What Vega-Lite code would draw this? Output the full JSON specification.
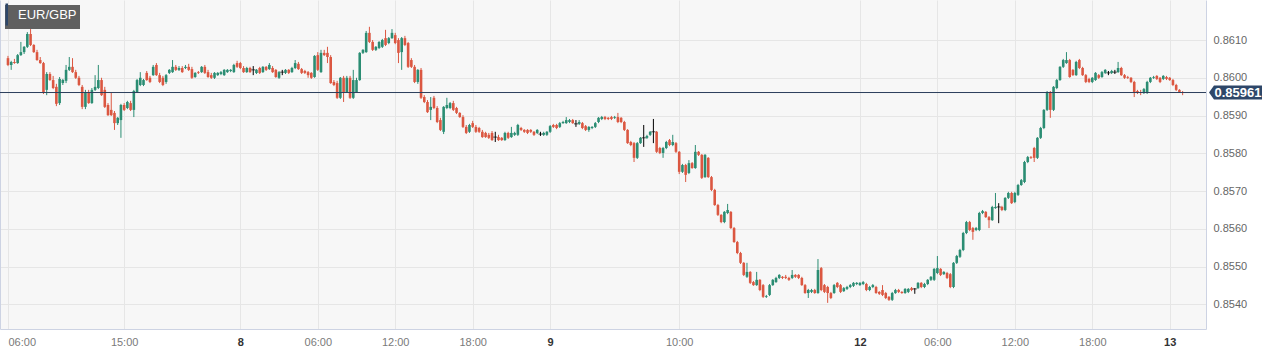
{"$schema":"https://vega.github.io/schema/vega-lite/v6.json","width":1206,"height":329,"autosize":{"type":"none"},"padding":{"left":0,"top":0,"right":71,"bottom":26},"background":"#ffffff","config":{"view":{"fill":"#f7f7f7","stroke":null},"font":"Liberation Sans"},
"layer":[
{"data":{"values":[
{"t":0,"o":0.86052,"h":0.86058,"l":0.86031,"c":0.86034},{"t":1,"o":0.86034,"h":0.86045,"l":0.86021,"c":0.86042},{"t":2,"o":0.86042,"h":0.8605,"l":0.86037,"c":0.86039},{"t":3,"o":0.86039,"h":0.86063,"l":0.86037,"c":0.8606},{"t":4,"o":0.8606,"h":0.86095,"l":0.86058,"c":0.86068},{"t":5,"o":0.86068,"h":0.86084,"l":0.86063,"c":0.86082},{"t":6,"o":0.86082,"h":0.86121,"l":0.86079,"c":0.86116},{"t":7,"o":0.86116,"h":0.86129,"l":0.86084,"c":0.86087},{"t":8,"o":0.86087,"h":0.86089,"l":0.86066,"c":0.86068},{"t":9,"o":0.86068,"h":0.86074,"l":0.86045,"c":0.86047},
{"t":10,"o":0.86047,"h":0.86055,"l":0.86037,"c":0.86039},{"t":11,"o":0.86039,"h":0.86042,"l":0.85957,"c":0.85962},{"t":12,"o":0.85968,"h":0.86015,"l":0.85954,"c":0.8601},{"t":13,"o":0.8601,"h":0.86015,"l":0.85992,"c":0.85994},{"t":14,"o":0.85994,"h":0.86005,"l":0.8597,"c":0.85973},{"t":15,"o":0.85976,"h":0.85984,"l":0.85925,"c":0.85931},{"t":16,"o":0.85933,"h":0.86002,"l":0.85928,"c":0.85997},{"t":17,"o":0.85986,"h":0.85997,"l":0.85981,"c":0.85994},{"t":18,"o":0.85992,"h":0.86034,"l":0.85986,"c":0.86021},{"t":19,"o":0.86021,"h":0.86055,"l":0.86018,"c":0.86029},
{"t":20,"o":0.86029,"h":0.86052,"l":0.86013,"c":0.86015},{"t":21,"o":0.86015,"h":0.86021,"l":0.85997,"c":0.86},{"t":22,"o":0.86,"h":0.86005,"l":0.85978,"c":0.85981},{"t":23,"o":0.85976,"h":0.85981,"l":0.85917,"c":0.85923},{"t":24,"o":0.85923,"h":0.85968,"l":0.85917,"c":0.85962},{"t":25,"o":0.85962,"h":0.85968,"l":0.85931,"c":0.85933},{"t":26,"o":0.85933,"h":0.85973,"l":0.85931,"c":0.85968},{"t":27,"o":0.85968,"h":0.86007,"l":0.85965,"c":0.85976},{"t":28,"o":0.85973,"h":0.86034,"l":0.8597,"c":0.85994},{"t":29,"o":0.85994,"h":0.86,"l":0.85952,"c":0.85954},
{"t":30,"o":0.85968,"h":0.85976,"l":0.8592,"c":0.85923},{"t":31,"o":0.85928,"h":0.85933,"l":0.85899,"c":0.85901},{"t":32,"o":0.85915,"h":0.8596,"l":0.85899,"c":0.85901},{"t":33,"o":0.85907,"h":0.85912,"l":0.85862,"c":0.8588},{"t":34,"o":0.8588,"h":0.85896,"l":0.85875,"c":0.85894},{"t":35,"o":0.85888,"h":0.85931,"l":0.85841,"c":0.85928},{"t":36,"o":0.85928,"h":0.85933,"l":0.85912,"c":0.85915},{"t":37,"o":0.8592,"h":0.85939,"l":0.85917,"c":0.85936},{"t":38,"o":0.85933,"h":0.85939,"l":0.85912,"c":0.85915},{"t":39,"o":0.85915,"h":0.85968,"l":0.85896,"c":0.85965},
{"t":40,"o":0.85962,"h":0.85997,"l":0.8596,"c":0.85994},{"t":41,"o":0.85981,"h":0.86015,"l":0.85978,"c":0.86},{"t":42,"o":0.85981,"h":0.85997,"l":0.85978,"c":0.85994},{"t":43,"o":0.86013,"h":0.86018,"l":0.85992,"c":0.85994},{"t":44,"o":0.86,"h":0.86005,"l":0.85986,"c":0.85989},{"t":45,"o":0.86007,"h":0.86034,"l":0.86005,"c":0.86029},{"t":46,"o":0.86034,"h":0.86039,"l":0.86005,"c":0.86007},{"t":47,"o":0.86007,"h":0.86013,"l":0.85986,"c":0.85989},{"t":48,"o":0.86,"h":0.86005,"l":0.85978,"c":0.85981},{"t":49,"o":0.85989,"h":0.8601,"l":0.85984,"c":0.86007},
{"t":50,"o":0.86013,"h":0.86023,"l":0.8601,"c":0.86021},{"t":51,"o":0.86015,"h":0.86047,"l":0.86013,"c":0.86029},{"t":52,"o":0.86029,"h":0.86034,"l":0.86018,"c":0.86021},{"t":53,"o":0.86021,"h":0.86031,"l":0.86018,"c":0.86026},{"t":54,"o":0.86026,"h":0.86031,"l":0.86013,"c":0.86015},{"t":55,"o":0.86026,"h":0.86034,"l":0.86023,"c":0.86029},{"t":56,"o":0.86029,"h":0.86037,"l":0.86018,"c":0.86021},{"t":57,"o":0.86023,"h":0.86029,"l":0.85997,"c":0.86},{"t":58,"o":0.86002,"h":0.86015,"l":0.86,"c":0.86013},{"t":59,"o":0.86015,"h":0.86018,"l":0.8601,"c":0.86013},
{"t":60,"o":0.86015,"h":0.86031,"l":0.86013,"c":0.86029},{"t":61,"o":0.86029,"h":0.86034,"l":0.8601,"c":0.86013},{"t":62,"o":0.86015,"h":0.86021,"l":0.86,"c":0.86002},{"t":63,"o":0.86007,"h":0.86013,"l":0.85997,"c":0.86},{"t":64,"o":0.86,"h":0.86015,"l":0.85997,"c":0.86013},{"t":65,"o":0.86007,"h":0.86015,"l":0.86005,"c":0.86013},{"t":66,"o":0.8601,"h":0.86018,"l":0.86007,"c":0.86015},{"t":67,"o":0.86007,"h":0.86023,"l":0.86005,"c":0.86021},{"t":68,"o":0.86015,"h":0.86023,"l":0.86013,"c":0.86021},{"t":69,"o":0.86018,"h":0.86023,"l":0.86015,"c":0.86021},
{"t":70,"o":0.86015,"h":0.86037,"l":0.86013,"c":0.86034},{"t":71,"o":0.86039,"h":0.86045,"l":0.86026,"c":0.86029},{"t":72,"o":0.86039,"h":0.86042,"l":0.86023,"c":0.86026},{"t":73,"o":0.86026,"h":0.86031,"l":0.86013,"c":0.86015},{"t":74,"o":0.86015,"h":0.86029,"l":0.86013,"c":0.86026},{"t":75,"o":0.86026,"h":0.86029,"l":0.86013,"c":0.86015},{"t":76,"o":0.86021,"h":0.86031,"l":0.86007,"c":0.86021},{"t":77,"o":0.86013,"h":0.86023,"l":0.8601,"c":0.86021},{"t":78,"o":0.86026,"h":0.86029,"l":0.8601,"c":0.86013},{"t":79,"o":0.86015,"h":0.86031,"l":0.86013,"c":0.86029},
{"t":80,"o":0.86029,"h":0.86031,"l":0.86018,"c":0.86021},{"t":81,"o":0.86023,"h":0.86039,"l":0.86021,"c":0.86034},{"t":82,"o":0.86026,"h":0.86031,"l":0.86013,"c":0.86015},{"t":83,"o":0.86021,"h":0.86023,"l":0.86,"c":0.86002},{"t":84,"o":0.86,"h":0.86018,"l":0.85997,"c":0.86015},{"t":85,"o":0.86015,"h":0.86021,"l":0.86007,"c":0.86015},{"t":86,"o":0.86013,"h":0.86023,"l":0.8601,"c":0.86021},{"t":87,"o":0.86021,"h":0.86023,"l":0.8601,"c":0.86013},{"t":88,"o":0.86015,"h":0.86029,"l":0.86013,"c":0.86026},{"t":89,"o":0.86026,"h":0.86047,"l":0.86023,"c":0.86039},
{"t":90,"o":0.86037,"h":0.86042,"l":0.86021,"c":0.86023},{"t":91,"o":0.86023,"h":0.86026,"l":0.8601,"c":0.86013},{"t":92,"o":0.86018,"h":0.86021,"l":0.8601,"c":0.86013},{"t":93,"o":0.86015,"h":0.86018,"l":0.86,"c":0.86007},{"t":94,"o":0.86013,"h":0.86015,"l":0.85997,"c":0.86},{"t":95,"o":0.86002,"h":0.8606,"l":0.86,"c":0.86058},{"t":96,"o":0.8606,"h":0.86068,"l":0.86018,"c":0.86021},{"t":97,"o":0.86015,"h":0.86074,"l":0.86013,"c":0.86066},{"t":98,"o":0.86066,"h":0.86074,"l":0.86058,"c":0.8606},{"t":99,"o":0.86066,"h":0.86082,"l":0.86039,"c":0.86055},
{"t":100,"o":0.86055,"h":0.8606,"l":0.85984,"c":0.85986},{"t":101,"o":0.85989,"h":0.85994,"l":0.85978,"c":0.85981},{"t":102,"o":0.85986,"h":0.85992,"l":0.85944,"c":0.85947},{"t":103,"o":0.85947,"h":0.86002,"l":0.85944,"c":0.86},{"t":104,"o":0.86,"h":0.86005,"l":0.85936,"c":0.85962},{"t":105,"o":0.85962,"h":0.86005,"l":0.8596,"c":0.86},{"t":106,"o":0.86,"h":0.86005,"l":0.85944,"c":0.85947},{"t":107,"o":0.85947,"h":0.86021,"l":0.85944,"c":0.85994},{"t":108,"o":0.85962,"h":0.86,"l":0.8596,"c":0.85994},{"t":109,"o":0.85994,"h":0.86068,"l":0.85992,"c":0.86066},
{"t":110,"o":0.86066,"h":0.86076,"l":0.86063,"c":0.86074},{"t":111,"o":0.86068,"h":0.86124,"l":0.86066,"c":0.86119},{"t":112,"o":0.86119,"h":0.86135,"l":0.86092,"c":0.86095},{"t":113,"o":0.86095,"h":0.861,"l":0.86071,"c":0.86074},{"t":114,"o":0.86074,"h":0.86084,"l":0.86071,"c":0.86082},{"t":115,"o":0.86079,"h":0.86097,"l":0.86076,"c":0.86095},{"t":116,"o":0.86082,"h":0.86103,"l":0.86079,"c":0.861},{"t":117,"o":0.86105,"h":0.86127,"l":0.86084,"c":0.86087},{"t":118,"o":0.86092,"h":0.86108,"l":0.86089,"c":0.86105},{"t":119,"o":0.86105,"h":0.86129,"l":0.86103,"c":0.86119},
{"t":120,"o":0.86113,"h":0.86119,"l":0.86089,"c":0.86092},{"t":121,"o":0.861,"h":0.86105,"l":0.86039,"c":0.86066},{"t":122,"o":0.86068,"h":0.86108,"l":0.86021,"c":0.86105},{"t":123,"o":0.86105,"h":0.86111,"l":0.86084,"c":0.86087},{"t":124,"o":0.86092,"h":0.86095,"l":0.86026,"c":0.86029},{"t":125,"o":0.86047,"h":0.86052,"l":0.86026,"c":0.86029},{"t":126,"o":0.86029,"h":0.86034,"l":0.85986,"c":0.85989},{"t":127,"o":0.85989,"h":0.86023,"l":0.85984,"c":0.86021},{"t":128,"o":0.86021,"h":0.86026,"l":0.85944,"c":0.85947},{"t":129,"o":0.85949,"h":0.85954,"l":0.85933,"c":0.85936},
{"t":130,"o":0.85936,"h":0.85941,"l":0.85907,"c":0.85909},{"t":131,"o":0.85915,"h":0.85949,"l":0.85888,"c":0.85923},{"t":132,"o":0.85947,"h":0.85952,"l":0.85917,"c":0.8592},{"t":133,"o":0.8592,"h":0.85925,"l":0.8588,"c":0.85883},{"t":134,"o":0.85888,"h":0.85894,"l":0.85859,"c":0.85862},{"t":135,"o":0.85857,"h":0.85925,"l":0.85851,"c":0.85923},{"t":136,"o":0.8592,"h":0.85947,"l":0.85917,"c":0.85928},{"t":137,"o":0.8592,"h":0.85936,"l":0.85917,"c":0.85933},{"t":138,"o":0.85933,"h":0.85939,"l":0.85912,"c":0.85915},{"t":139,"o":0.8592,"h":0.85923,"l":0.85904,"c":0.85907},
{"t":140,"o":0.85907,"h":0.85909,"l":0.85894,"c":0.85896},{"t":141,"o":0.85896,"h":0.85901,"l":0.85867,"c":0.8587},{"t":142,"o":0.8587,"h":0.85875,"l":0.85851,"c":0.85854},{"t":143,"o":0.85857,"h":0.85878,"l":0.85854,"c":0.85875},{"t":144,"o":0.8588,"h":0.85886,"l":0.85867,"c":0.8587},{"t":145,"o":0.8587,"h":0.85875,"l":0.85854,"c":0.85857},{"t":146,"o":0.85867,"h":0.8587,"l":0.85854,"c":0.85857},{"t":147,"o":0.85857,"h":0.85862,"l":0.85841,"c":0.85843},{"t":148,"o":0.85854,"h":0.85857,"l":0.85841,"c":0.85843},{"t":149,"o":0.85849,"h":0.85854,"l":0.85838,"c":0.85841},
{"t":150,"o":0.85854,"h":0.85859,"l":0.85833,"c":0.85835},{"t":151,"o":0.85843,"h":0.85857,"l":0.8583,"c":0.85843},{"t":152,"o":0.85843,"h":0.85849,"l":0.85833,"c":0.85835},{"t":153,"o":0.85841,"h":0.85843,"l":0.85833,"c":0.85835},{"t":154,"o":0.85835,"h":0.85857,"l":0.85833,"c":0.85854},{"t":155,"o":0.85854,"h":0.85857,"l":0.85838,"c":0.85841},{"t":156,"o":0.85843,"h":0.8587,"l":0.85841,"c":0.85854},{"t":157,"o":0.85849,"h":0.85857,"l":0.85846,"c":0.85854},{"t":158,"o":0.85849,"h":0.85878,"l":0.85846,"c":0.85875},{"t":159,"o":0.85867,"h":0.8587,"l":0.85859,"c":0.85862},
{"t":160,"o":0.85862,"h":0.85864,"l":0.85854,"c":0.85857},{"t":161,"o":0.85862,"h":0.85864,"l":0.85851,"c":0.85854},{"t":162,"o":0.85862,"h":0.85864,"l":0.85854,"c":0.85857},{"t":163,"o":0.85857,"h":0.85859,"l":0.85846,"c":0.85849},{"t":164,"o":0.85854,"h":0.85864,"l":0.85851,"c":0.85862},{"t":165,"o":0.85851,"h":0.85857,"l":0.85846,"c":0.85851},{"t":166,"o":0.85849,"h":0.85857,"l":0.85846,"c":0.85854},{"t":167,"o":0.85849,"h":0.85859,"l":0.85846,"c":0.85857},{"t":168,"o":0.85857,"h":0.85875,"l":0.85854,"c":0.85872},{"t":169,"o":0.85875,"h":0.85878,"l":0.85867,"c":0.8587},
{"t":170,"o":0.85875,"h":0.85878,"l":0.85864,"c":0.85867},{"t":171,"o":0.8587,"h":0.85883,"l":0.85867,"c":0.8588},{"t":172,"o":0.8588,"h":0.85886,"l":0.85878,"c":0.85883},{"t":173,"o":0.8588,"h":0.85896,"l":0.85878,"c":0.85888},{"t":174,"o":0.85883,"h":0.85891,"l":0.8588,"c":0.85888},{"t":175,"o":0.85888,"h":0.85891,"l":0.85878,"c":0.8588},{"t":176,"o":0.85878,"h":0.85888,"l":0.8587,"c":0.85878},{"t":177,"o":0.85878,"h":0.85888,"l":0.85875,"c":0.85883},{"t":178,"o":0.8588,"h":0.85883,"l":0.85864,"c":0.85867},{"t":179,"o":0.85872,"h":0.85875,"l":0.85859,"c":0.85862},
{"t":180,"o":0.85862,"h":0.85872,"l":0.85857,"c":0.8587},{"t":181,"o":0.85867,"h":0.85872,"l":0.85864,"c":0.8587},{"t":182,"o":0.8587,"h":0.85883,"l":0.85867,"c":0.8588},{"t":183,"o":0.85883,"h":0.85896,"l":0.8588,"c":0.85894},{"t":184,"o":0.85891,"h":0.85899,"l":0.85888,"c":0.85896},{"t":185,"o":0.85896,"h":0.85899,"l":0.85888,"c":0.85891},{"t":186,"o":0.85894,"h":0.85896,"l":0.85888,"c":0.85891},{"t":187,"o":0.85896,"h":0.85899,"l":0.85888,"c":0.85891},{"t":188,"o":0.85894,"h":0.85899,"l":0.85891,"c":0.85896},{"t":189,"o":0.85896,"h":0.85907,"l":0.8588,"c":0.85883},
{"t":190,"o":0.85894,"h":0.85896,"l":0.8588,"c":0.85883},{"t":191,"o":0.85883,"h":0.85886,"l":0.85859,"c":0.85862},{"t":192,"o":0.85862,"h":0.85864,"l":0.85825,"c":0.85827},{"t":193,"o":0.8583,"h":0.85833,"l":0.85819,"c":0.85822},{"t":194,"o":0.85827,"h":0.8583,"l":0.85777,"c":0.85788},{"t":195,"o":0.85788,"h":0.8583,"l":0.85785,"c":0.85827},{"t":196,"o":0.85827,"h":0.85843,"l":0.85825,"c":0.85841},{"t":197,"o":0.85841,"h":0.85875,"l":0.85817,"c":0.85841},{"t":198,"o":0.85841,"h":0.85849,"l":0.85838,"c":0.85846},{"t":199,"o":0.85849,"h":0.85859,"l":0.85846,"c":0.85857},
{"t":200,"o":0.85857,"h":0.85891,"l":0.85827,"c":0.85857},{"t":201,"o":0.85857,"h":0.85859,"l":0.85801,"c":0.85804},{"t":202,"o":0.85814,"h":0.85817,"l":0.85798,"c":0.85801},{"t":203,"o":0.85801,"h":0.85817,"l":0.85788,"c":0.85814},{"t":204,"o":0.85814,"h":0.85833,"l":0.85811,"c":0.8583},{"t":205,"o":0.85835,"h":0.85838,"l":0.85819,"c":0.85822},{"t":206,"o":0.85822,"h":0.85849,"l":0.85819,"c":0.8583},{"t":207,"o":0.85827,"h":0.8583,"l":0.85801,"c":0.85804},{"t":208,"o":0.85804,"h":0.85806,"l":0.85745,"c":0.85751},{"t":209,"o":0.85751,"h":0.85772,"l":0.85748,"c":0.85769},
{"t":210,"o":0.85769,"h":0.85772,"l":0.85724,"c":0.85743},{"t":211,"o":0.85748,"h":0.85782,"l":0.85745,"c":0.85774},{"t":212,"o":0.85774,"h":0.85777,"l":0.85759,"c":0.85761},{"t":213,"o":0.85761,"h":0.85822,"l":0.85759,"c":0.85804},{"t":214,"o":0.85804,"h":0.85806,"l":0.85793,"c":0.85796},{"t":215,"o":0.85796,"h":0.85798,"l":0.85732,"c":0.85735},{"t":216,"o":0.85737,"h":0.85798,"l":0.85735,"c":0.85796},{"t":217,"o":0.85788,"h":0.8579,"l":0.85735,"c":0.85737},{"t":218,"o":0.85737,"h":0.8574,"l":0.857,"c":0.85703},{"t":219,"o":0.85703,"h":0.85706,"l":0.85661,"c":0.85663},
{"t":220,"o":0.85663,"h":0.85666,"l":0.85634,"c":0.85637},{"t":221,"o":0.85637,"h":0.85639,"l":0.85615,"c":0.85618},{"t":222,"o":0.85618,"h":0.85647,"l":0.85615,"c":0.85645},{"t":223,"o":0.85642,"h":0.85666,"l":0.85639,"c":0.8565},{"t":224,"o":0.85645,"h":0.85647,"l":0.856,"c":0.85602},{"t":225,"o":0.85602,"h":0.85605,"l":0.85563,"c":0.85565},{"t":226,"o":0.85565,"h":0.85568,"l":0.85533,"c":0.85536},{"t":227,"o":0.85536,"h":0.85539,"l":0.85507,"c":0.8551},{"t":228,"o":0.8551,"h":0.85512,"l":0.85475,"c":0.85478},{"t":229,"o":0.85473,"h":0.8551,"l":0.8547,"c":0.85486},
{"t":230,"o":0.85486,"h":0.85488,"l":0.85454,"c":0.85457},{"t":231,"o":0.85459,"h":0.85462,"l":0.85449,"c":0.85451},{"t":232,"o":0.85451,"h":0.85486,"l":0.85449,"c":0.85465},{"t":233,"o":0.85465,"h":0.85467,"l":0.85435,"c":0.85438},{"t":234,"o":0.85451,"h":0.85454,"l":0.85417,"c":0.8542},{"t":235,"o":0.8542,"h":0.85425,"l":0.85417,"c":0.85422},{"t":236,"o":0.85425,"h":0.85454,"l":0.85422,"c":0.85451},{"t":237,"o":0.85451,"h":0.85467,"l":0.85449,"c":0.85465},{"t":238,"o":0.85459,"h":0.85473,"l":0.85457,"c":0.8547},{"t":239,"o":0.8547,"h":0.8548,"l":0.85467,"c":0.85478},
{"t":240,"o":0.85473,"h":0.85475,"l":0.85467,"c":0.8547},{"t":241,"o":0.85473,"h":0.85478,"l":0.85467,"c":0.8547},{"t":242,"o":0.8547,"h":0.85473,"l":0.85462,"c":0.85465},{"t":243,"o":0.8547,"h":0.85491,"l":0.85467,"c":0.85478},{"t":244,"o":0.85478,"h":0.8548,"l":0.8547,"c":0.85473},{"t":245,"o":0.85478,"h":0.8548,"l":0.85467,"c":0.8547},{"t":246,"o":0.8547,"h":0.85473,"l":0.85449,"c":0.85451},{"t":247,"o":0.85451,"h":0.85454,"l":0.85428,"c":0.8543},{"t":248,"o":0.8543,"h":0.85441,"l":0.85417,"c":0.85438},{"t":249,"o":0.85433,"h":0.85441,"l":0.8543,"c":0.85438},
{"t":250,"o":0.85438,"h":0.85441,"l":0.85428,"c":0.8543},{"t":251,"o":0.8543,"h":0.8552,"l":0.85428,"c":0.85491},{"t":252,"o":0.85496,"h":0.85499,"l":0.85435,"c":0.85438},{"t":253,"o":0.85451,"h":0.85454,"l":0.8543,"c":0.85433},{"t":254,"o":0.85446,"h":0.85449,"l":0.85404,"c":0.8543},{"t":255,"o":0.8543,"h":0.85433,"l":0.85414,"c":0.85417},{"t":256,"o":0.8543,"h":0.85454,"l":0.85428,"c":0.85451},{"t":257,"o":0.85457,"h":0.85459,"l":0.85443,"c":0.85446},{"t":258,"o":0.85451,"h":0.85454,"l":0.8543,"c":0.85433},{"t":259,"o":0.85435,"h":0.85446,"l":0.85433,"c":0.85443},
{"t":260,"o":0.85441,"h":0.85449,"l":0.85438,"c":0.85446},{"t":261,"o":0.85446,"h":0.85454,"l":0.85443,"c":0.85451},{"t":262,"o":0.85449,"h":0.85459,"l":0.85446,"c":0.85457},{"t":263,"o":0.85454,"h":0.85459,"l":0.85451,"c":0.85457},{"t":264,"o":0.85451,"h":0.85459,"l":0.85449,"c":0.85457},{"t":265,"o":0.85454,"h":0.85462,"l":0.85451,"c":0.85459},{"t":266,"o":0.85454,"h":0.85457,"l":0.85435,"c":0.85438},{"t":267,"o":0.85438,"h":0.85449,"l":0.85435,"c":0.85446},{"t":268,"o":0.85446,"h":0.85454,"l":0.85443,"c":0.85451},{"t":269,"o":0.85446,"h":0.85449,"l":0.85428,"c":0.8543},
{"t":270,"o":0.85433,"h":0.85435,"l":0.85425,"c":0.85428},{"t":271,"o":0.85438,"h":0.85451,"l":0.85422,"c":0.85425},{"t":272,"o":0.8543,"h":0.85433,"l":0.85414,"c":0.85417},{"t":273,"o":0.8542,"h":0.85422,"l":0.85409,"c":0.85412},{"t":274,"o":0.85412,"h":0.85433,"l":0.85409,"c":0.8543},{"t":275,"o":0.8543,"h":0.85441,"l":0.85428,"c":0.85438},{"t":276,"o":0.85438,"h":0.85441,"l":0.8543,"c":0.85433},{"t":277,"o":0.85433,"h":0.85435,"l":0.85428,"c":0.8543},{"t":278,"o":0.8543,"h":0.85443,"l":0.85428,"c":0.85441},{"t":279,"o":0.85433,"h":0.85443,"l":0.8543,"c":0.85441},
{"t":280,"o":0.85443,"h":0.85446,"l":0.85435,"c":0.85438},{"t":281,"o":0.85441,"h":0.85443,"l":0.85428,"c":0.85441},{"t":282,"o":0.85443,"h":0.85459,"l":0.85441,"c":0.85457},{"t":283,"o":0.85457,"h":0.85459,"l":0.85443,"c":0.85446},{"t":284,"o":0.85446,"h":0.85457,"l":0.85443,"c":0.85454},{"t":285,"o":0.85454,"h":0.85467,"l":0.85451,"c":0.85465},{"t":286,"o":0.85465,"h":0.85475,"l":0.85462,"c":0.85473},{"t":287,"o":0.85465,"h":0.85496,"l":0.85462,"c":0.85494},{"t":288,"o":0.85483,"h":0.85528,"l":0.8548,"c":0.85496},{"t":289,"o":0.85494,"h":0.85496,"l":0.85475,"c":0.85478},
{"t":290,"o":0.8548,"h":0.85488,"l":0.85478,"c":0.85486},{"t":291,"o":0.85483,"h":0.85486,"l":0.85467,"c":0.8547},{"t":292,"o":0.8548,"h":0.85483,"l":0.85443,"c":0.85446},{"t":293,"o":0.85446,"h":0.85512,"l":0.85443,"c":0.8551},{"t":294,"o":0.8551,"h":0.85531,"l":0.85507,"c":0.85528},{"t":295,"o":0.85526,"h":0.85547,"l":0.85523,"c":0.85544},{"t":296,"o":0.85544,"h":0.85592,"l":0.85541,"c":0.85589},{"t":297,"o":0.85589,"h":0.85621,"l":0.85586,"c":0.85618},{"t":298,"o":0.85618,"h":0.85621,"l":0.85594,"c":0.85597},{"t":299,"o":0.85602,"h":0.85605,"l":0.85571,"c":0.85592},
{"t":300,"o":0.85597,"h":0.85605,"l":0.85594,"c":0.85602},{"t":301,"o":0.85597,"h":0.85645,"l":0.85594,"c":0.85642},{"t":302,"o":0.85642,"h":0.8565,"l":0.85639,"c":0.85647},{"t":303,"o":0.85645,"h":0.85647,"l":0.85629,"c":0.85631},{"t":304,"o":0.85631,"h":0.85634,"l":0.85602,"c":0.85623},{"t":305,"o":0.85623,"h":0.85661,"l":0.85621,"c":0.85658},{"t":306,"o":0.85655,"h":0.85695,"l":0.85653,"c":0.85658},{"t":307,"o":0.85658,"h":0.85668,"l":0.85615,"c":0.85658},{"t":308,"o":0.85658,"h":0.85661,"l":0.85647,"c":0.8565},{"t":309,"o":0.8565,"h":0.85684,"l":0.85647,"c":0.85682},
{"t":310,"o":0.85682,"h":0.85698,"l":0.85679,"c":0.85695},{"t":311,"o":0.85695,"h":0.85698,"l":0.85666,"c":0.85668},{"t":312,"o":0.85671,"h":0.85698,"l":0.85668,"c":0.85695},{"t":313,"o":0.8569,"h":0.85719,"l":0.85687,"c":0.85716},{"t":314,"o":0.85716,"h":0.85732,"l":0.85714,"c":0.85729},{"t":315,"o":0.85724,"h":0.8578,"l":0.85721,"c":0.85777},{"t":316,"o":0.85777,"h":0.85793,"l":0.85774,"c":0.8579},{"t":317,"o":0.8579,"h":0.85793,"l":0.85785,"c":0.85788},{"t":318,"o":0.85814,"h":0.85817,"l":0.85777,"c":0.85788},{"t":319,"o":0.85788,"h":0.85843,"l":0.85785,"c":0.85841},
{"t":320,"o":0.85841,"h":0.8587,"l":0.85838,"c":0.85867},{"t":321,"o":0.85867,"h":0.85917,"l":0.85864,"c":0.85915},{"t":322,"o":0.85915,"h":0.85965,"l":0.85912,"c":0.85962},{"t":323,"o":0.85962,"h":0.85965,"l":0.85894,"c":0.85915},{"t":324,"o":0.85915,"h":0.85978,"l":0.85912,"c":0.85976},{"t":325,"o":0.85973,"h":0.85997,"l":0.8597,"c":0.85994},{"t":326,"o":0.85994,"h":0.86031,"l":0.85992,"c":0.86029},{"t":327,"o":0.86029,"h":0.8605,"l":0.86026,"c":0.86047},{"t":328,"o":0.86039,"h":0.86068,"l":0.86037,"c":0.86047},{"t":329,"o":0.86047,"h":0.8605,"l":0.86,"c":0.86002},
{"t":330,"o":0.86021,"h":0.86023,"l":0.86005,"c":0.86007},{"t":331,"o":0.86007,"h":0.86045,"l":0.86005,"c":0.86042},{"t":332,"o":0.86047,"h":0.8605,"l":0.86023,"c":0.86026},{"t":333,"o":0.86026,"h":0.86029,"l":0.86005,"c":0.86007},{"t":334,"o":0.86007,"h":0.8601,"l":0.85986,"c":0.85989},{"t":335,"o":0.85997,"h":0.86,"l":0.85986,"c":0.85989},{"t":336,"o":0.85989,"h":0.86002,"l":0.85986,"c":0.86},{"t":337,"o":0.85994,"h":0.86015,"l":0.85992,"c":0.86013},{"t":338,"o":0.86007,"h":0.8601,"l":0.85997,"c":0.86},{"t":339,"o":0.86002,"h":0.86018,"l":0.86,"c":0.86015},
{"t":340,"o":0.86013,"h":0.86023,"l":0.8601,"c":0.86021},{"t":341,"o":0.86013,"h":0.86018,"l":0.86007,"c":0.86013},{"t":342,"o":0.86013,"h":0.86021,"l":0.8601,"c":0.86018},{"t":343,"o":0.86015,"h":0.86021,"l":0.8601,"c":0.86015},{"t":344,"o":0.86015,"h":0.86042,"l":0.86013,"c":0.86026},{"t":345,"o":0.86026,"h":0.86029,"l":0.86005,"c":0.86007},{"t":346,"o":0.86007,"h":0.8601,"l":0.85997,"c":0.86},{"t":347,"o":0.86002,"h":0.86005,"l":0.85997,"c":0.86},{"t":348,"o":0.86,"h":0.86002,"l":0.85986,"c":0.85989},{"t":349,"o":0.85989,"h":0.85992,"l":0.85949,"c":0.85962},
{"t":350,"o":0.85965,"h":0.85968,"l":0.85957,"c":0.8596},{"t":351,"o":0.85962,"h":0.85968,"l":0.85954,"c":0.8596},{"t":352,"o":0.8596,"h":0.85973,"l":0.85957,"c":0.8597},{"t":353,"o":0.8596,"h":0.85992,"l":0.85957,"c":0.85989},{"t":354,"o":0.85989,"h":0.86002,"l":0.85986,"c":0.86},{"t":355,"o":0.86,"h":0.86005,"l":0.85997,"c":0.86002},{"t":356,"o":0.86005,"h":0.86007,"l":0.85994,"c":0.85997},{"t":357,"o":0.86,"h":0.86002,"l":0.85986,"c":0.85989},{"t":358,"o":0.85997,"h":0.86007,"l":0.85994,"c":0.86005},{"t":359,"o":0.86002,"h":0.86005,"l":0.85994,"c":0.85997},
{"t":360,"o":0.86,"h":0.86002,"l":0.85992,"c":0.85994},{"t":361,"o":0.85994,"h":0.85997,"l":0.85978,"c":0.85981},{"t":362,"o":0.85981,"h":0.85984,"l":0.85965,"c":0.85968},{"t":363,"o":0.85968,"h":0.8597,"l":0.8596,"c":0.85962},{"t":364,"o":0.85962,"h":0.85965,"l":0.85954,"c":0.85961}
]},
"encoding":{"x":{"field":"t","type":"quantitative","scale":{"domain":[-0.922,369.69],"nice":false,"zero":false},"axis":{"values":[0,36,72,96,120,144,168,208,264,288,312,336,360],"labelExpr":"datum.value==0?'06:00':datum.value==36?'15:00':datum.value==72?'8':datum.value==96?'06:00':datum.value==120?'12:00':datum.value==144?'18:00':datum.value==168?'9':datum.value==208?'10:00':datum.value==264?'12':datum.value==288?'06:00':datum.value==312?'12:00':datum.value==336?'18:00':'13'","labelFontWeight":{"condition":{"test":"datum.value==72||datum.value==168||datum.value==264||datum.value==360","value":"bold"},"value":"normal"},"labelColor":{"condition":{"test":"datum.value==72||datum.value==168||datum.value==264||datum.value==360","value":"#333333"},"value":"#7a7a7a"},"labelAlign":{"condition":{"test":"datum.value==0","value":"left"},"value":"center"},"labelFontSize":11,"labelPadding":7,"labelFlush":false,"labelOverlap":false,"labelBound":false,"ticks":false,"grid":true,"gridColor":"#e6e6e6","domain":true,"domainColor":"#cdd3e3","title":null}}},
"layer":[
{"mark":{"type":"rule","strokeWidth":1},"encoding":{"y":{"field":"l","type":"quantitative","scale":{"domain":[0.853348,0.86206],"nice":false,"zero":false},"axis":{"orient":"right","values":[0.854,0.855,0.856,0.857,0.858,0.859,0.86,0.861],"format":".4f","labelFontSize":11,"labelColor":"#666666","labelPadding":7,"ticks":false,"grid":true,"gridColor":"#e6e6e6","domainColor":"#cdd3e3","title":null}},"y2":{"field":"h"},"color":{"condition":[{"test":"datum.c > datum.o","value":"#2b8d73"},{"test":"datum.c < datum.o","value":"#db5741"}],"value":"#000000"}}},
{"mark":{"type":"bar","width":2.6},"encoding":{"y":{"field":"o","type":"quantitative","scale":{"domain":[0.853348,0.86206],"nice":false,"zero":false}},"y2":{"field":"c"},"color":{"condition":[{"test":"datum.c > datum.o","value":"#2b8d73"},{"test":"datum.c < datum.o","value":"#db5741"}],"value":"#000000"}}},
{"transform":[{"filter":"datum.o == datum.c"}],"mark":{"type":"tick","orient":"horizontal","size":4,"thickness":1,"color":"#000000"},"encoding":{"y":{"field":"c","type":"quantitative","scale":{"domain":[0.853348,0.86206],"nice":false,"zero":false}}}}
]},
{"data":{"values":[{"price":0.85961}]},"mark":{"type":"rule","color":"#2c3e5c","strokeWidth":1},"encoding":{"y":{"field":"price","type":"quantitative","scale":{"domain":[0.853348,0.86206],"nice":false,"zero":false},"axis":{"orient":"left","labels":false,"ticks":false,"grid":false,"domain":true,"domainColor":"#cdd3e3","title":null}}}},
{"data":{"values":[{"price":0.85961,"series":"EUR/GBP"}]},"mark":{"type":"point","filled":true,"opacity":1,"shape":"M-1,0L-0.811,-0.264L1,-0.264L1,0.264L-0.811,0.264Z","size":2809,"xOffset":29.5},"encoding":{"x":{"value":"width"},"y":{"field":"price","type":"quantitative","scale":{"domain":[0.853348,0.86206],"nice":false,"zero":false},"axis":null},"color":{"field":"series","type":"nominal","scale":{"range":["#2e4769"]},"legend":{"title":null,"orient":"top-left","offset":5,"fillColor":"#606060","padding":3,"labelColor":"#ffffff","labelFontSize":13,"labelFont":"Liberation Sans","labelOffset":-3,"symbolSize":144,"symbolType":"M-1.5,-1.833H-1.083V1.833H-1.5Z","symbolStrokeWidth":0,"symbolFillColor":"#2b8d73","encode":{"symbols":{"update":{"fill":{"value":"#2b8d73"},"shape":{"value":"M-1.5,-1.833H-1.083V1.833H-1.5Z"},"size":{"value":144},"opacity":{"value":1},"strokeWidth":{"value":0}}}}}}}},
{"data":{"values":[{"price":0.85961,"label":"0.85961"}]},"mark":{"type":"text","dx":32,"align":"center","baseline":"middle","fontWeight":"bold","fontSize":13,"color":"#ffffff"},"encoding":{"x":{"value":"width"},"y":{"field":"price","type":"quantitative","scale":{"domain":[0.853348,0.86206],"nice":false,"zero":false},"axis":null},"text":{"field":"label"}}}
],
"resolve":{"axis":{"y":"independent"}}}
